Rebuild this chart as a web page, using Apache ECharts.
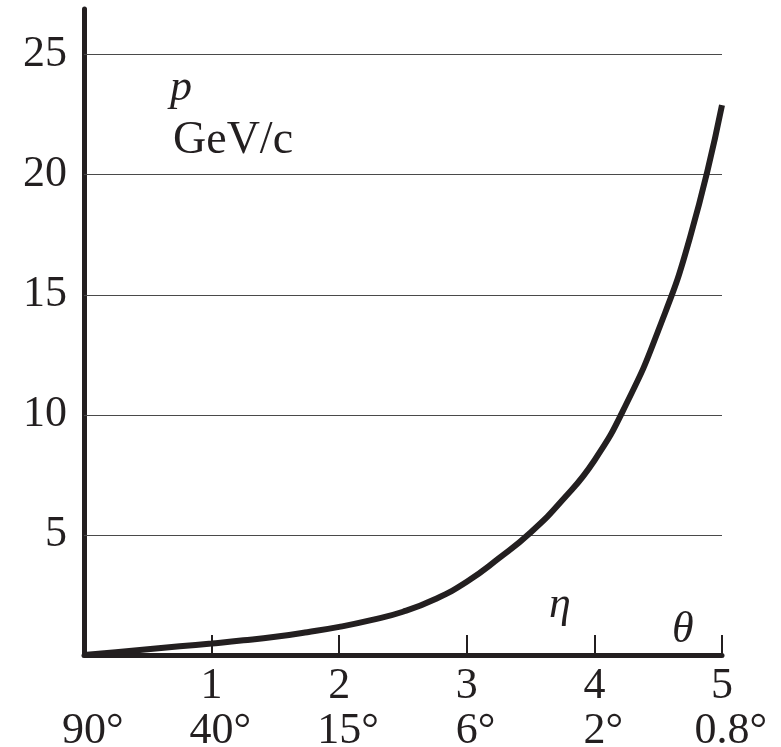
<!DOCTYPE html>
<html>
<head>
<meta charset="utf-8">
<script src="https://cdn.jsdelivr.net/npm/echarts@6/dist/echarts.min.js"></script>
<style>
  html, body { margin: 0; padding: 0; background: #ffffff; }
  #chart { width: 781px; height: 747px; }
</style>
</head>
<body>
<div id="chart"></div>
<script>
// Pseudorapidity eta and the momentum p (GeV/c) along the curve
const etaValues = [0, 0.25, 0.5, 0.75, 1, 1.25, 1.5, 1.75, 2, 2.25, 2.5, 2.75, 3, 3.25, 3.5, 3.75, 4, 4.25, 4.5, 4.75, 5];
const momentum  = [0, 0.12, 0.24, 0.36, 0.48, 0.61, 0.76, 0.95, 1.17, 1.45, 1.8, 2.32, 3.05, 4.02, 5.1, 6.45, 8.1, 10.45, 13.5, 17.4, 22.9];

// Axis tick labels: eta on the first row, polar angle theta on the second
const etaTicks    = [0, 1, 2, 3, 4, 5];
const etaLabels   = ['', '1', '2', '3', '4', '5'];
const thetaLabels = ['90', '40', '15', '6', '2', '0.8'];
const gridValues  = [5, 10, 15, 20, 25];

const ink = '#231f20';
const serif = '"Liberation Serif", "DejaVu Serif", serif';

const chart = echarts.init(document.getElementById('chart'), null, { renderer: 'canvas' });

const curve = etaValues.map((e, i) => [e, momentum[i]]);

chart.setOption({
  animation: false,
  backgroundColor: '#ffffff',
  grid: { left: 84, right: 59, top: 9, bottom: 92, containLabel: false, outerBoundsMode: 'none' },
  xAxis: {
    type: 'value',
    min: 0, max: 5, interval: 1,
    splitLine: { show: false },
    axisLine: { show: true, onZero: false, lineStyle: { color: ink, width: 5 } },
    axisTick: { show: true, inside: true, length: 20, lineStyle: { color: ink, width: 2 } },
    axisLabel: {
      show: true,
      showMinLabel: true,
      showMaxLabel: true,
      margin: 9,
      formatter: function (v) {
        const i = etaTicks.indexOf(Math.round(v));
        if (i < 0) return '';
        const top = etaLabels[i] === '' ? '{n| }' : '{n|' + etaLabels[i] + '}';
        return top + '\n{pad|°}{n|' + thetaLabels[i] + '}{d|°}';
      },
      rich: {
        n: { fontFamily: serif, fontSize: 44, color: ink, lineHeight: 45 },
        d: { fontFamily: serif, fontSize: 44, color: ink, lineHeight: 45 },
        pad: { fontFamily: serif, fontSize: 44, color: 'rgba(0,0,0,0)', lineHeight: 45 }
      }
    }
  },
  yAxis: {
    type: 'value',
    min: 0, max: 26.9, interval: 5,
    splitLine: { show: false },
    axisLine: { show: true, lineStyle: { color: ink, width: 5 } },
    axisTick: { show: false },
    axisLabel: {
      margin: 17,
      fontFamily: serif,
      fontSize: 44,
      color: ink,
      formatter: function (v) {
        return gridValues.indexOf(v) >= 0 ? String(v) : '';
      }
    }
  },
  series: [{
    type: 'line',
    data: curve,
    smooth: 0.5,
    showSymbol: false,
    lineStyle: { color: ink, width: 6, cap: 'butt' },
    z: 5,
    markLine: {
      silent: true,
      symbol: 'none',
      label: { show: false },
      lineStyle: { color: '#4a4a4a', width: 1, type: 'solid' },
      data: gridValues.map(v => ({ yAxis: v })),
      z: 1
    }
  }],
  graphic: [
    { type: 'text', left: 170, top: 66, style: { text: 'p', font: 'italic 44px ' + serif, fill: ink } },
    { type: 'text', left: 173, top: 118, style: { text: 'GeV/c', font: '46px ' + serif, fill: ink } },
    { type: 'text', left: 549, top: 583, style: { text: 'η', font: 'italic 44px ' + serif, fill: ink } },
    { type: 'text', left: 672, top: 608, style: { text: 'θ', font: 'italic 44px ' + serif, fill: ink } }
  ]
});
</script>
</body>
</html>
